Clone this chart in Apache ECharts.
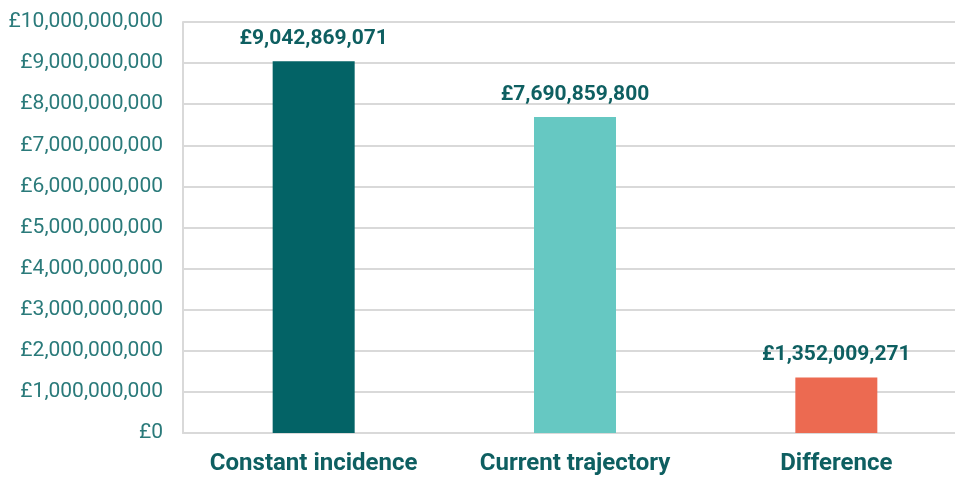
<!DOCTYPE html>
<html><head><meta charset="utf-8">
<script src="https://cdn.jsdelivr.net/npm/echarts@6/dist/echarts.min.js"></script>
<style>html,body{margin:0;padding:0;background:#fff;overflow:hidden}#c{width:955px;height:478px}</style>
</head><body><div id="c"></div>
<script>
const categories = ['Constant incidence', 'Current trajectory', 'Difference'];
const values = [9042869071, 7690859800, 1352009271];
const barColors = ['#036366', '#66c8c2', '#ec6a51'];
const yMin = 0, yMax = 10000000000, yStep = 1000000000;

function fmt(v){ return '£' + Math.round(v).toLocaleString('en-GB'); }

const chart = echarts.init(document.getElementById('c'));
chart.setOption({
  animation: false,
  grid: { left: 183, right: -12, top: 22, bottom: 45, outerBoundsMode: 'none', containLabel: false },
  xAxis: {
    type: 'category', data: categories,
    axisLine: { show: true, lineStyle: { color: '#d9d9d9', width: 2 } },
    axisTick: { show: false },
    axisLabel: { interval: 0, color: '#0e5f61', fontFamily: 'Roboto', fontWeight: 'bold', fontSize: 24, margin: 19 }
  },
  yAxis: {
    type: 'value', min: yMin, max: yMax, interval: yStep,
    axisLine: { show: true, lineStyle: { color: '#d9d9d9', width: 2 } },
    axisTick: { show: false },
    splitLine: { lineStyle: { color: '#d9d9d9', width: 2 } },
    axisLabel: { color: '#2a7a7a', fontFamily: 'Roboto', fontSize: 21, margin: 20, formatter: fmt }
  },
  series: [{
    type: 'bar', barWidth: 82,
    data: values.map((v,i)=>({ value: v, itemStyle: { color: barColors[i] } })),
    label: { show: true, position: 'top', distance: 12, formatter: p => fmt(p.value),
      color: '#0e5f61', fontFamily: 'Roboto', fontWeight: 'bold', fontSize: 21 }
  }]
});
</script></body></html>
